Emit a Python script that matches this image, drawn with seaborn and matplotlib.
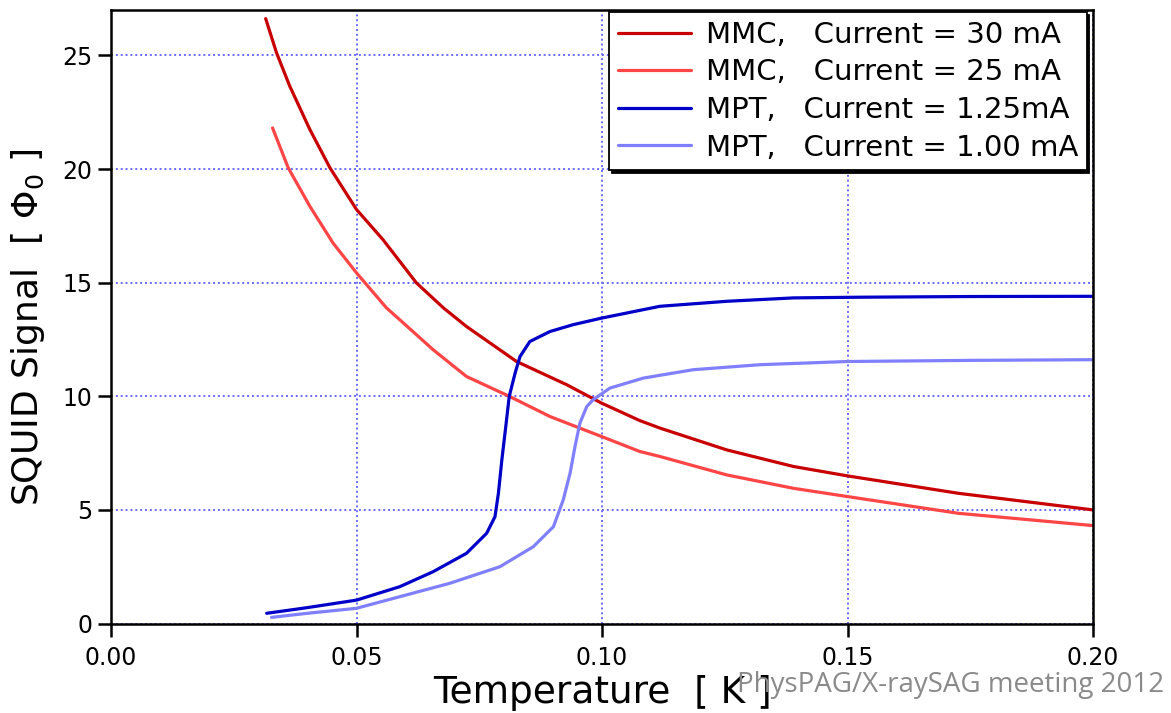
import numpy as np
import pandas as pd
import matplotlib
matplotlib.use("Agg")
import matplotlib.pyplot as plt
import seaborn as sns

# ---- data ----
labels = ["MMC,   Current = 30 mA", "MMC,   Current = 25 mA",
          "MPT,   Current = 1.25mA", "MPT,   Current = 1.00 mA"]

mmc30_T = [0.0315, 0.0337, 0.0364, 0.0405, 0.0446, 0.0500, 0.0554, 0.0622, 0.0677,
           0.0724, 0.0826, 0.0928, 0.0999, 0.1077, 0.1118, 0.1254, 0.1390, 0.1499,
           0.1726, 0.2000]
mmc30_S = [26.62, 25.12, 23.65, 21.74, 20.05, 18.22, 16.89, 14.99, 13.89,
           13.07, 11.53, 10.51, 9.70, 8.93, 8.60, 7.64, 6.91, 6.50,
           5.73, 5.00]

mmc25_T = [0.0329, 0.0361, 0.0405, 0.0452, 0.0500, 0.0561, 0.0588, 0.0656, 0.0724,
           0.0812, 0.0894, 0.0999, 0.1077, 0.1118, 0.1254, 0.1390, 0.1499,
           0.1726, 0.2000]
mmc25_S = [21.81, 20.05, 18.36, 16.75, 15.43, 13.89, 13.37, 12.05, 10.87,
           9.99, 9.11, 8.23, 7.57, 7.35, 6.54, 5.95, 5.59,
           4.85, 4.31]

mpt125_T = [0.0317, 0.0400, 0.0500, 0.0588, 0.0656, 0.0724, 0.0765, 0.0782, 0.0789,
            0.0796, 0.0804, 0.0811, 0.0823, 0.0833, 0.0853, 0.0894, 0.0941,
            0.0999, 0.1118, 0.1254, 0.1390, 0.1526, 0.1750, 0.2000]
mpt125_S = [0.45, 0.70, 1.03, 1.62, 2.28, 3.09, 3.97, 4.70, 5.73,
            7.20, 8.67, 9.99, 11.02, 11.75, 12.41, 12.85, 13.15,
            13.44, 13.96, 14.18, 14.33, 14.36, 14.39, 14.40]

mpt100_T = [0.0327, 0.0400, 0.0500, 0.0588, 0.0690, 0.0792, 0.0860, 0.0901, 0.0921,
            0.0935, 0.0945, 0.0955, 0.0969, 0.0982, 0.1016, 0.1084, 0.1186,
            0.1322, 0.1499, 0.1750, 0.2000]
mpt100_S = [0.27, 0.45, 0.67, 1.18, 1.77, 2.50, 3.38, 4.26, 5.44,
            6.62, 7.79, 8.82, 9.55, 9.85, 10.36, 10.80, 11.17,
            11.39, 11.53, 11.58, 11.61]

x_ticks = [0.00, 0.05, 0.10, 0.15, 0.20]
x_ticklabels = ["0.00", "0.05", "0.10", "0.15", "0.20"]
y_ticks = [0, 5, 10, 15, 20, 25]
y_ticklabels = ["0", "5", "10", "15", "20", "25"]

colors = ["#c80000", "#ff4545", "#0000c8", "#8080ff"]

frames = []
for lab, T, S in zip(labels, [mmc30_T, mmc25_T, mpt125_T, mpt100_T],
                     [mmc30_S, mmc25_S, mpt125_S, mpt100_S]):
    frames.append(pd.DataFrame({"T": T, "S": S, "series": lab}))
df = pd.concat(frames, ignore_index=True)

# ---- figure ----
sns.set_theme(style="white")
plt.rcParams["font.family"] = ["DejaVu Sans"]
plt.rcParams["mathtext.fontset"] = "dejavusans"
plt.rcParams["text.color"] = "black"
plt.rcParams["axes.labelcolor"] = "black"

fig = plt.figure(figsize=(11.71, 7.13), dpi=100)
ax = fig.add_axes([0.0948, 0.1255, 0.8386, 0.8605])

sns.lineplot(data=df, x="T", y="S", hue="series", hue_order=labels,
             palette=colors, linewidth=2.3, sort=False, estimator=None, ax=ax)

ax.set_xlim(0.0, 0.20)
ax.set_ylim(0, 27)
ax.set_xticks(x_ticks)
ax.set_xticklabels(x_ticklabels)
ax.set_yticks(y_ticks)
ax.set_yticklabels(y_ticklabels)
ax.tick_params(axis="both", direction="out", length=9.5, width=1.8,
               labelsize=17, color="black", labelcolor="black",
               bottom=True, left=True, top=False, right=False)
ax.tick_params(axis="x", pad=7)
ax.tick_params(axis="y", pad=4)
ax.grid(True, color="#6a6aff", linestyle=(0, (1, 1.5)), linewidth=1.4)
for sp in ax.spines.values():
    sp.set_visible(True)
    sp.set_color("black")
    sp.set_linewidth(1.8)

ax.set_xlabel("Temperature  [ K ]", fontsize=27, color="black", va="top")
ax.set_ylabel(r"SQUID Signal  [ $\Phi_0$ ]", fontsize=26, color="black", va="center")
ax.xaxis.set_label_coords(0.5, -0.084)
ax.yaxis.set_label_coords(-0.085, 0.483)

leg = ax.legend(loc="upper right", bbox_to_anchor=(0.9935, 0.9967),
                fontsize=21, frameon=True, fancybox=False,
                borderaxespad=0.0, handlelength=2.5, labelspacing=0.33,
                borderpad=0.3, handletextpad=0.5,
                shadow={"color": "black", "alpha": 1.0})
leg.get_frame().set_edgecolor("black")
leg.get_frame().set_linewidth(1.3)
leg.get_frame().set_facecolor("white")
leg.get_frame().set_alpha(1.0)
for txt in leg.get_texts():
    txt.set_color("black")
for line in leg.get_lines():
    line.set_linewidth(2.3)

fig.text(737 / 1171, 1 - 685 / 713, "PhysPAG/X-raySAG meeting 2012",
         fontsize=20, color="#8a8a8a", family="Open Sans", ha="left", va="center")

fig.savefig("out.png", dpi=100)
